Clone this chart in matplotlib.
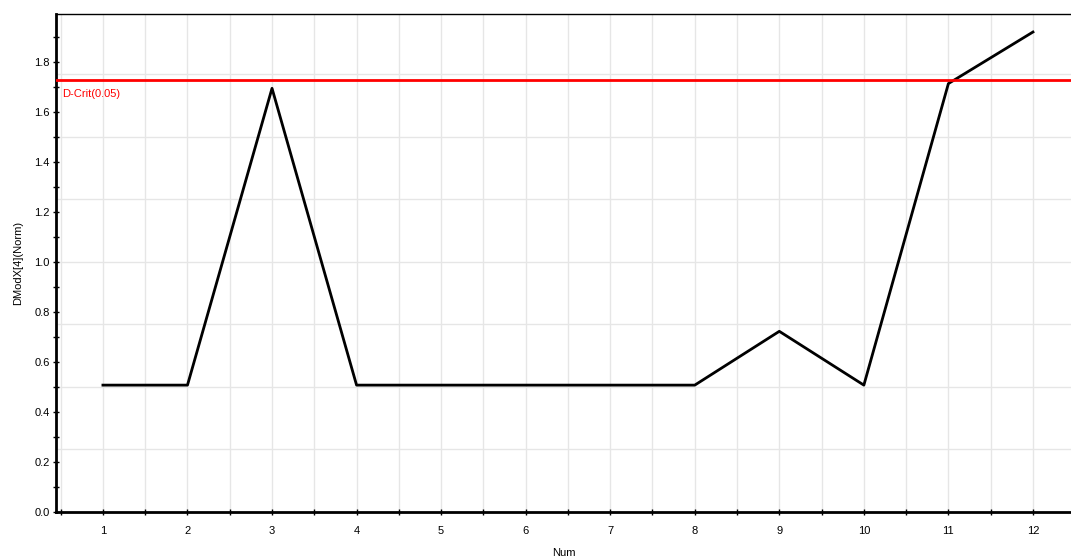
import matplotlib
matplotlib.use("Agg")
import matplotlib.pyplot as plt
from matplotlib.ticker import MultipleLocator

plt.rcParams['font.family'] = ['Liberation Sans', 'DejaVu Sans']

num = [1, 2, 3, 4, 5, 6, 7, 8, 9, 10, 11, 12]
dmodx = [0.507, 0.507, 1.693, 0.507, 0.507, 0.507, 0.507, 0.507, 0.722, 0.507, 1.712, 1.918]
dcrit = 1.7245
dcrit_label = "D-Crit(0.05)"

fig = plt.figure(figsize=(10.71, 5.6), dpi=100)
ax = fig.add_axes([56/1071, 48/560, 1.0 - 56/1071, 498/560])

ax.set_xlim(0.445, 12.45)
ax.set_ylim(0, 1.99)

# grid
for gx in [x/2 for x in range(1, 26)]:
    ax.axvline(gx, color='#e6e6e6', lw=1, zorder=0)
for gy in [0.25 * i for i in range(1, 8)]:
    ax.axhline(gy, color='#e6e6e6', lw=1, zorder=0)

ax.plot(num, dmodx, color='black', lw=2, zorder=3)
ax.axhline(dcrit, color='#ff0000', lw=2, zorder=4)
ax.text(0.52, dcrit - 0.035, dcrit_label, color='#ff0000', fontsize=8, va='top', ha='left')

ax.xaxis.set_major_locator(MultipleLocator(1))
ax.xaxis.set_minor_locator(MultipleLocator(0.5))
ax.yaxis.set_major_locator(MultipleLocator(0.2))
ax.yaxis.set_minor_locator(MultipleLocator(0.1))
ax.tick_params(axis='both', which='both', direction='inout', labelsize=8, colors='black')
ax.tick_params(axis='y', which='both', length=5, width=1, pad=2)
ax.tick_params(axis='x', which='both', length=4, width=1, pad=8)
ax.yaxis.set_major_formatter(matplotlib.ticker.FormatStrFormatter('%.1f'))

ax.spines['right'].set_visible(False)
ax.spines['top'].set_linewidth(1)
ax.spines['left'].set_linewidth(2)
ax.spines['bottom'].set_linewidth(2)

ax.set_xlabel("Num", fontsize=8, labelpad=9)
ax.set_ylabel("DModX[4](Norm)", fontsize=8, labelpad=8)

fig.savefig("out.png", dpi=100, facecolor='white')
